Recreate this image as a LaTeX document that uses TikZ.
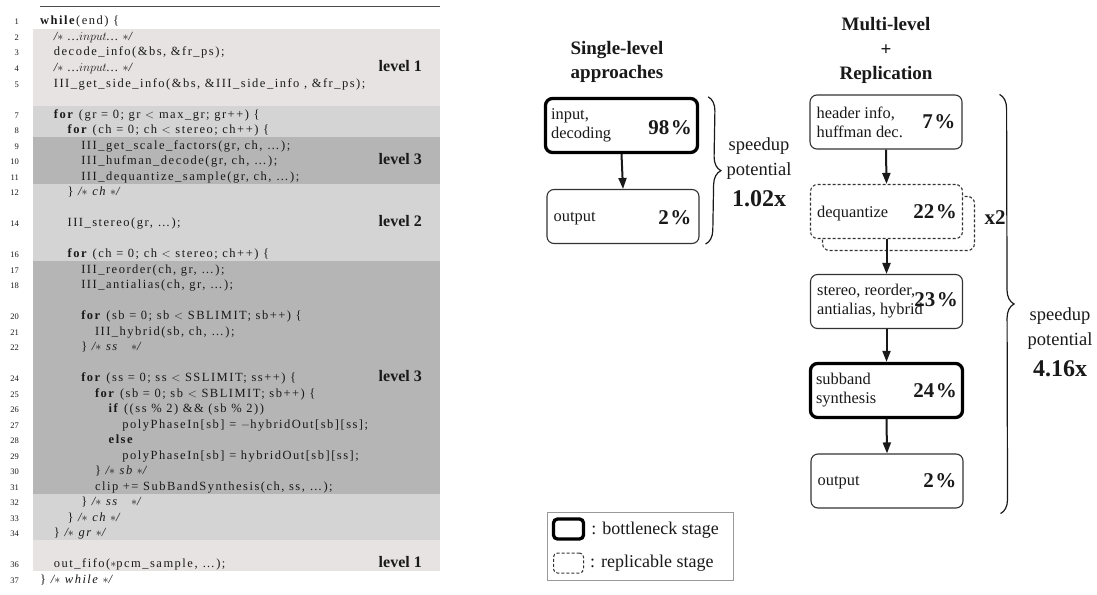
\documentclass[tikz,border=0pt]{standalone}
\usepackage{fontspec}
\setmainfont{Liberation Serif}
\newfontfamily\codefont[LetterSpace=12]{Liberation Serif}
\usetikzlibrary{decorations.pathreplacing,arrows.meta,calc}

\definecolor{lvlone}{RGB}{232,227,227}
\definecolor{lvltwo}{RGB}{212,212,212}
\definecolor{lvlthree}{RGB}{181,181,181}
\definecolor{ink}{RGB}{25,25,25}

% one numbered source line: number, indent level, text
\newcommand\codeline[3]{%
  \node[lineno] (num#1) at (19,{25+(#1-1)*15.5}) {#1};
  \node[codetext] (code#1) at ({40+#2*13.7},{25+(#1-1)*15.5}) {#3};}
\newcommand\cmt[1]{\textit{/$\ast$ #1 $\ast$/}}
\newcommand\kw[1]{\textbf{#1}}
\newcommand\pc[1]{#1\hspace{1.5pt}\%}

\tikzset{
  lineno/.style={anchor=base east, inner sep=0pt, text=ink, font=\fontsize{8.5}{9}\selectfont},
  codetext/.style={anchor=base west, inner sep=0pt, text=ink, font=\codefont\fontsize{12.5}{13}\selectfont},
  lvl/.style={anchor=base east, inner sep=0pt, text=ink, font=\bfseries\fontsize{16}{17}\selectfont},
  stage/.style={draw=black!80, line width=1.1pt, rounded corners=7pt, fill=white,
    minimum width=152pt, minimum height=54pt, inner sep=0pt},
  bottleneck/.style={stage, draw=black, line width=3.3pt},
  replica/.style={stage, dash pattern=on 3pt off 2pt},
  lab/.style={anchor=west, inner sep=0pt, align=left, text=ink, font=\fontsize{16.4}{19}\selectfont},
  pct/.style={anchor=east, inner sep=0pt, text=ink, font=\bfseries\fontsize{21}{22}\selectfont},
  flow/.style={-{Triangle[length=11pt,width=8pt]}, line width=2pt, draw=ink},
  title/.style={anchor=base, inner sep=0pt, text=ink, font=\bfseries\fontsize{19}{24}\selectfont},
  spd/.style={anchor=base, inner sep=0pt, text=ink, font=\fontsize{18.5}{20}\selectfont},
  spdval/.style={anchor=base, inner sep=0pt, text=ink, font=\bfseries\fontsize{24}{25}\selectfont},
  curly/.style={decorate, line width=1.2pt, draw=ink},
  legtext/.style={anchor=west, inner sep=0pt, text=ink, font=\fontsize{18}{19}\selectfont},
}

\begin{document}
\begin{tikzpicture}[x=1pt,y=-1pt]
\useasboundingbox (0,0) rectangle (1097,594);

% ---------- source listing ----------
\fill[lvlone]   (33,28.75)  rectangle (440,106.25);
\fill[lvltwo]   (33,106.25) rectangle (440,137.25);
\fill[lvlthree] (33,137.25) rectangle (440,183.75);
\fill[lvltwo]   (33,183.75) rectangle (440,261.25);
\fill[lvlthree] (33,261.25) rectangle (440,493.75);
\fill[lvltwo]   (33,493.75) rectangle (440,540.25);
\fill[lvlone]   (33,540.25) rectangle (440,571.25);
\draw[line width=0.8pt, draw=black!70] (40,6) -- (440,6);

\codeline{1}{0}{\kw{while}(end) \{}
\codeline{2}{1}{\textit{/$\ast$ \ldots$input$\ldots{} $\ast$/}}
\codeline{3}{1}{decode\_info(\&bs, \&fr\_ps);}
\codeline{4}{1}{\textit{/$\ast$ \ldots$input$\ldots{} $\ast$/}}
\codeline{5}{1}{III\_get\_side\_info(\&bs, \&III\_side\_info , \&fr\_ps);}
\codeline{7}{1}{\kw{for} (gr = 0; gr $<$ max\_gr; gr++) \{}
\codeline{8}{2}{\kw{for} (ch = 0; ch $<$ stereo; ch++) \{}
\codeline{9}{3}{III\_get\_scale\_factors(gr, ch, \ldots);}
\codeline{10}{3}{III\_hufman\_decode(gr, ch, \ldots);}
\codeline{11}{3}{III\_dequantize\_sample(gr, ch, \ldots);}
\codeline{12}{2}{\} \cmt{ch}}
\codeline{14}{2}{III\_stereo(gr, \ldots);}
\codeline{16}{2}{\kw{for} (ch = 0; ch $<$ stereo; ch++) \{}
\codeline{17}{3}{III\_reorder(ch, gr, \ldots);}
\codeline{18}{3}{III\_antialias(ch, gr, \ldots);}
\codeline{20}{3}{\kw{for} (sb = 0; sb $<$ SBLIMIT; sb++) \{}
\codeline{21}{4}{III\_hybrid(sb, ch, \ldots);}
\codeline{22}{3}{\} \cmt{ss\ \ }}
\codeline{24}{3}{\kw{for} (ss = 0; ss $<$ SSLIMIT; ss++) \{}
\codeline{25}{4}{\kw{for} (sb = 0; sb $<$ SBLIMIT; sb++) \{}
\codeline{26}{5}{\kw{if} ((ss \% 2) \&\& (sb \% 2))}
\codeline{27}{6}{polyPhaseIn[sb] = $-$hybridOut[sb][ss];}
\codeline{28}{5}{\kw{else}}
\codeline{29}{6}{polyPhaseIn[sb] = hybridOut[sb][ss];}
\codeline{30}{4}{\} \cmt{sb}}
\codeline{31}{4}{clip += SubBandSynthesis(ch, ss, \ldots);}
\codeline{32}{3}{\} \cmt{ss\ \ }}
\codeline{33}{2}{\} \cmt{ch}}
\codeline{34}{1}{\} \cmt{gr}}
\codeline{36}{1}{out\_fifo($\ast$pcm\_sample, \ldots);}
\codeline{37}{0}{\} \cmt{while}}

\node[lvl] (lvA) at (422,71.5)  {level 1};
\node[lvl] (lvB) at (422,164.5) {level 3};
\node[lvl] (lvC) at (422,226.5) {level 2};
\node[lvl] (lvD) at (422,381.5) {level 3};
\node[lvl] (lvE) at (422,567.5) {level 1};

% ---------- single-level pipeline ----------
\node[title] (tSingleA) at (617,54.5) {Single-level};
\node[title] (tSingleB) at (617,78.5) {approaches};
\node[bottleneck] (sIn) at (621.5,125.5) {};
\node[stage] (sOut) at (623,216.5) {};
\node[lab] (sInLab) at ($(sIn.west)+(7,0)$) {input,\\decoding};
\node[pct] (sInPct) at ($(sIn.east)+(-7,2)$) {\pc{98}};
\node[lab] (sOutLab) at ($(sOut.west)+(7,2)$) {output};
\node[pct] (sOutPct) at ($(sOut.east)+(-8,1)$) {\pc{2}};
\draw[flow] (sIn.south) -- (sOut.north);
\draw[curly, decoration={brace, amplitude=14pt}]
  ($(sIn.north east)+(9,0)$) -- ($(sOut.south east)+(6,0)$);
\node[spd] (sSpdA) at (759,150) {speedup};
\node[spd] (sSpdB) at (759,175) {potential};
\node[spdval] (sSpdC) at (759,206) {1.02x};

% ---------- multi-level pipeline ----------
\node[title] (tMultiA) at (886,30.5) {Multi-level};
\node[title] (tMultiB) at (886,55.5) {+};
\node[title] (tMultiC) at (886,79.5) {Replication};
\node[stage] (mHead) at (886,122) {};
\node[replica] (mDeqB) at (898.5,223.5) {};
\node[replica] (mDeq) at (886.5,211.5) {};
\node[stage] (mSter) at (886.5,301.5) {};
\node[bottleneck] (mSub) at (886.5,390.5) {};
\node[stage] (mOut) at (887,481) {};

\node[lab] (mHeadLab) at ($(mHead.west)+(7,0)$) {header info,\\huffman dec.};
\node[pct] (mHeadPct) at ($(mHead.east)+(-7,0)$) {\pc{7}};
\node[lab] (mDeqLab) at ($(mDeq.west)+(7,2)$) {dequantize};
\node[pct] (mDeqPct) at ($(mDeq.east)+(-6,0)$) {\pc{22}};
\node[lab] (mSterLab) at ($(mSter.west)+(7,0)$) {stereo, reorder,\\antialias, hybrid};
\node[pct] (mSterPct) at ($(mSter.east)+(-5,-2)$) {\pc{23}};
\node[lab] (mSubLab) at ($(mSub.west)+(7,0)$) {subband\\synthesis};
\node[pct] (mSubPct) at ($(mSub.east)+(-7,0)$) {\pc{24}};
\node[lab] (mOutLab) at ($(mOut.west)+(7,2)$) {output};
\node[pct] (mOutPct) at ($(mOut.east)+(-7,0)$) {\pc{2}};

\draw[flow] (mHead.south) -- (mDeq.north);
\draw[flow] (mDeq.south) -- (mSter.north);
\draw[flow] (mSter.south) -- (mSub.north);
\draw[flow] (mSub.south) -- (mOut.north);

\node[pct, anchor=center] (mRep) at (995,218) {x2};

\draw[curly, decoration={brace, amplitude=14pt}]
  ($(mHead.north east)+(37,0)$) -- ($(mOut.south east)+(37,5)$);
\node[spd] (mSpdA) at (1060,320) {speedup};
\node[spd] (mSpdB) at (1060,345) {potential};
\node[spdval] (mSpdC) at (1060,376) {4.16x};

% ---------- legend ----------
\node[draw=black!40, line width=0.8pt, minimum width=186pt, minimum height=68pt, inner sep=0pt] (legend) at (640,546) {};
\node[draw=black, line width=3.3pt, rounded corners=4pt, minimum width=30pt, minimum height=20pt, inner sep=0pt] (legB) at (568.5,529) {};
\node[draw=black!80, line width=1pt, dash pattern=on 3pt off 2pt, rounded corners=4pt, minimum width=30pt, minimum height=20pt, inner sep=0pt] (legR) at (568.5,563) {};
\node[legtext] (legBText) at ($(legB.east)+(6,1)$) {: bottleneck stage};
\node[legtext] (legRText) at ($(legR.east)+(6,0)$) {: replicable stage};
\end{tikzpicture}
\end{document}
